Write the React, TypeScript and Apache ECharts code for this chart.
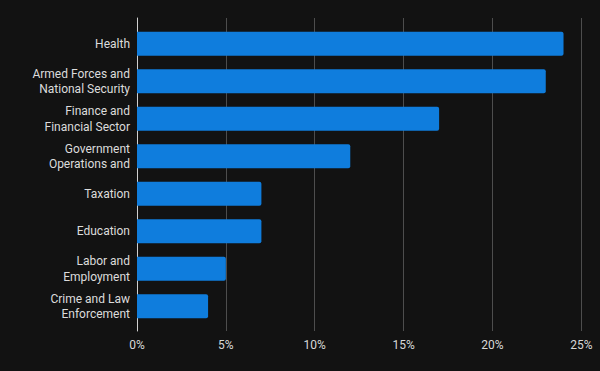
import React, { useEffect, useRef } from "react";
import * as echarts from "echarts";

const categories = [
  "Health",
  "Armed Forces and\nNational Security",
  "Finance and\nFinancial Sector",
  "Government\nOperations and",
  "Taxation",
  "Education",
  "Labor and\nEmployment",
  "Crime and Law\nEnforcement",
];
const values = [24, 23, 17, 12, 7, 7, 5, 4];
const xTicks = [0, 5, 10, 15, 20, 25];

export default function App() {
  const ref = useRef<HTMLDivElement>(null);
  useEffect(() => {
    if (!ref.current) return;
    const chart = echarts.init(ref.current, null, { renderer: "svg" });
    const left = 137;
    const right = 18.7;
    chart.setOption({
      animation: false,
      backgroundColor: "#121212",
      textStyle: { fontFamily: "Roboto" },
      grid: [
        { left, right, top: 25, height: 300, containLabel: false },
        { left, right, top: 18, height: 313, containLabel: false },
      ],
      xAxis: [
        {
          gridIndex: 0,
          type: "value",
          min: xTicks[0],
          max: xTicks[xTicks.length - 1],
          interval: 5,
          axisLabel: { show: false },
          splitLine: { show: false },
          axisLine: { show: false },
          axisTick: { show: false },
        },
        {
          gridIndex: 1,
          type: "value",
          min: xTicks[0],
          max: xTicks[xTicks.length - 1],
          interval: 5,
          axisLabel: {
            color: "#d8d8d8",
            fontSize: 12,
            margin: 8,
            formatter: (v: number) => `${v}%`,
          },
          splitLine: { show: true, lineStyle: { color: "#4d4d4d", width: 1 } },
          axisLine: { show: false },
          axisTick: { show: false },
        },
      ],
      yAxis: [
        {
          gridIndex: 0,
          type: "category",
          inverse: true,
          data: categories,
          axisLine: { show: false },
          axisTick: { show: false },
          axisLabel: {
            color: "#dcdcdc",
            fontSize: 12,
            lineHeight: 15.5,
            margin: 7,
            align: "right",
          },
        },
        {
          gridIndex: 1,
          type: "value",
          min: 0,
          max: 1,
          axisLabel: { show: false },
          splitLine: { show: false },
          axisTick: { show: false },
          axisLine: { show: true, lineStyle: { color: "#d0d0d0", width: 1 } },
        },
      ],
      series: [
        {
          type: "bar",
          xAxisIndex: 0,
          yAxisIndex: 0,
          data: values,
          barWidth: 24,
          z: 3,
          itemStyle: { color: "#0f7ddd", borderRadius: [0, 2, 2, 0] },
        },
      ],
    });
    return () => chart.dispose();
  }, []);
  return <div ref={ref} style={{ width: 600, height: 371, position: "absolute", left: 0, top: 0 }} />;
}
